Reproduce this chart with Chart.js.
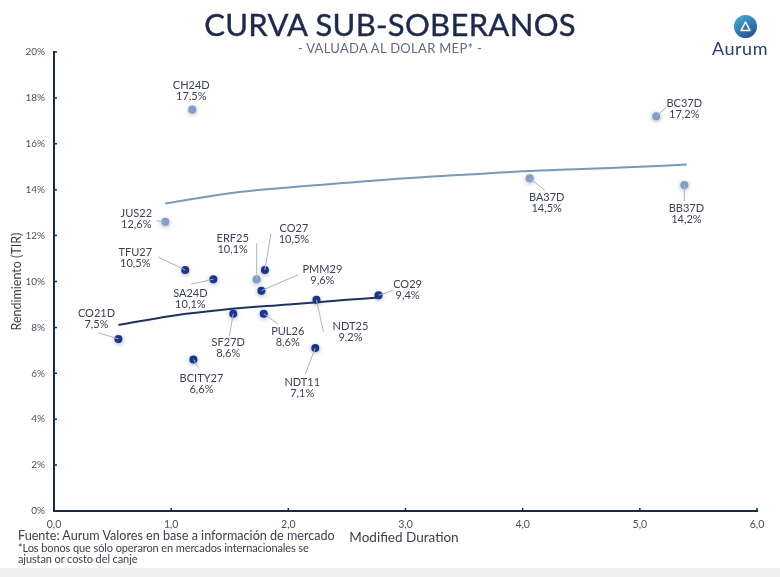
<!DOCTYPE html>
<html>
<head>
<meta charset="utf-8">
<script src="https://cdn.jsdelivr.net/npm/chart.js@4.4.1/dist/chart.umd.min.js"></script>
<style>
  html, body { margin: 0; padding: 0; background: #fff; }
  #wrap { position: relative; width: 780px; height: 577px; overflow: hidden; font-family: Lato, "Noto Sans", sans-serif; }
  #c { position: absolute; left: 0; top: 0; }
  .title { position: absolute; left: 0; width: 780px; top: 5px; text-align: center; font-size: 31px; color: #1b2a4e; letter-spacing: 0.3px; -webkit-text-stroke: 0.4px #1b2a4e; }
  .sub { position: absolute; left: 0; width: 780px; top: 40px; text-align: center; font-size: 13px; color: #5d6b86; letter-spacing: 0.3px; }
  .logo { position: absolute; left: 705px; top: 15px; width: 70px; text-align: center; }
  .logo svg { display: block; margin: 0 0 0 29px; }
  .logo .tx { font-size: 18px; color: #2a3d6a; margin-top: -1px; letter-spacing: 0.5px; }
  .xt { position: absolute; left: 0; width: 808px; top: 529px; text-align: center; font-size: 13.5px; color: #3a3f4c; }
  .foot1 { position: absolute; left: 18px; top: 528px; font-size: 12.6px; color: #3a3f4c; }
  .foot2 { position: absolute; left: 18px; top: 542px; font-size: 11px; color: #3a3f4c; line-height: 11px; letter-spacing: -0.1px; }
  .band { position: absolute; left: 0; top: 568px; width: 780px; height: 9px; background: #f0f0f0; }
</style>
</head>
<body>
<div id="wrap">
  <canvas id="c" width="780" height="577"></canvas>
  <div class="title">CURVA SUB-SOBERANOS</div>
  <div class="sub">- VALUADA AL DOLAR MEP* -</div>
  <div class="logo">
    <svg width="23" height="23" viewBox="0 0 23 23">
      <defs><linearGradient id="lg" x1="0" y1="0" x2="0.6" y2="1"><stop offset="0" stop-color="#41b4de"/><stop offset="1" stop-color="#2a559b"/></linearGradient></defs>
      <circle cx="11.5" cy="11.5" r="11.5" fill="url(#lg)"/>
      <path d="M7 15.5 L11.5 7 L16 15.5 Z" fill="none" stroke="#fff" stroke-width="1.6" stroke-linejoin="round"/>
    </svg>
    <div class="tx">Aurum</div>
  </div>
  <div class="xt">Modified Duration</div>
  <div class="foot1">Fuente: Aurum Valores en base a información de mercado</div>
  <div class="foot2">*Los bonos que sólo operaron en mercados internacionales se<br>ajustan or costo del canje</div>
  <div class="band"></div>
</div>
<script>
// bonos (celeste)
const lightNames = ['CH24D', 'BC37D', 'BA37D', 'BB37D', 'JUS22', 'ERF25'];
const lightDur = [1.18, 5.14, 4.06, 5.38, 0.95, 1.73];
const lightTir = [17.5, 17.2, 14.5, 14.2, 12.6, 10.1];

// bonos (azul)
const darkNames = ['TFU27', 'SA24D', 'CO27', 'PMM29', 'CO29', 'NDT25', 'CO21D', 'SF27D', 'PUL26', 'BCITY27', 'NDT11'];
const darkDur = [1.12, 1.36, 1.80, 1.77, 2.77, 2.24, 0.55, 1.53, 1.79, 1.19, 2.23];
const darkTir = [10.5, 10.1, 10.5, 9.6, 9.4, 9.2, 7.5, 8.6, 8.6, 6.6, 7.1];

// curvas de tendencia
const lightTrendX = [0.95, 1.5, 2.0, 2.5, 3.0, 3.5, 4.0, 4.5, 5.0, 5.4];
const lightTrendY = [13.4, 13.85, 14.1, 14.3, 14.5, 14.65, 14.8, 14.9, 15.0, 15.1];
const darkTrendX = [0.55, 1.0, 1.5, 2.0, 2.5, 2.77];
const darkTrendY = [8.1, 8.5, 8.8, 9.0, 9.2, 9.3];

// ejes
const xTicks = [0, 1, 2, 3, 4, 5, 6];
const yTicks = [0, 2, 4, 6, 8, 10, 12, 14, 16, 18, 20];

// posicion de etiquetas (dx,dy del nombre y fin de la linea guia)
const labelPos = {
  CH24D: [-1, -24, null], BC37D: [28, -13, [10, -9]], BA37D: [17, 19, [15, 12]],
  BB37D: [2, 23, [0, 16]], JUS22: [-29, -8, [-9, -1]], ERF25: [-24, -41, [0, -36]],
  TFU27: [-50, -18, [-27, -13]], SA24D: [-23, 14, [-22, 5]], CO27: [29, -42, [6, -36]],
  PMM29: [61, -21, [37, -16]], CO29: [29, -11, [15, -5]], NDT25: [34, 27, [7, 32]],
  CO21D: [-22, -25, [-20, -6]], SF27D: [-5, 29, [-4, 23]], PUL26: [24, 18, [15, 11]],
  BCITY27: [8, 19, [5, 8]], NDT11: [-13, 34, [-10, 26]]
};

const fmt = v => v.toFixed(1).replace('.', ',');

function pts(xs, ys) { return xs.map((x, i) => ({x: x, y: ys[i]})); }

const labelsPlugin = {
  id: 'bondLabels',
  afterDatasetsDraw(chart) {
    const ctx = chart.ctx;
    ctx.save();
    chart.data.datasets.forEach((ds, di) => {
      if (!ds.names) return;
      const meta = chart.getDatasetMeta(di);
      meta.data.forEach((el, i) => {
        const p = labelPos[ds.names[i]];
        if (p[2]) {
          ctx.strokeStyle = '#a9b2c4';
          ctx.lineWidth = 1;
          ctx.beginPath();
          ctx.moveTo(el.x, el.y);
          ctx.lineTo(el.x + p[2][0], el.y + p[2][1]);
          ctx.stroke();
        }
        ctx.fillStyle = '#3b4258';
        ctx.font = '11px Lato, "Noto Sans", sans-serif';
        ctx.textAlign = 'center';
        ctx.textBaseline = 'middle';
        ctx.fillText(ds.names[i], el.x + p[0], el.y + p[1]);
        ctx.fillText(fmt(ds.data[i].y) + '%', el.x + p[0], el.y + p[1] + 11);
      });
    });
    ctx.restore();
  }
};

const ticksPlugin = {
  id: 'innerTicks',
  afterDraw(chart) {
    const ctx = chart.ctx, xs = chart.scales.x, ys = chart.scales.y;
    ctx.save();
    ctx.strokeStyle = '#1b2a45';
    ctx.lineWidth = 1.5;
    ctx.beginPath();
    xTicks.forEach(v => { const px = xs.getPixelForValue(v); ctx.moveTo(px, ys.bottom); ctx.lineTo(px, ys.bottom - 3); });
    yTicks.forEach(v => { const py = ys.getPixelForValue(v); ctx.moveTo(xs.left, py); ctx.lineTo(xs.left + 3, py); });
    ctx.moveTo(xs.left - 1, ys.top); ctx.lineTo(xs.left + 3, ys.top);
    ctx.stroke();
    ctx.restore();
  }
};

const glowPlugin = {
  id: 'glow',
  beforeDatasetDraw(chart, args) {
    const ds = chart.data.datasets[args.index];
    if (ds.showLine) return;
    chart.ctx.save();
    chart.ctx.shadowColor = 'rgba(0,0,0,0.35)';
    chart.ctx.shadowBlur = 4;
    chart.ctx.shadowOffsetY = 1;
  },
  afterDatasetDraw(chart, args) {
    const ds = chart.data.datasets[args.index];
    if (ds.showLine) return;
    chart.ctx.restore();
  }
};

new Chart(document.getElementById('c'), {
  type: 'scatter',
  data: {
    datasets: [
      { data: pts(lightTrendX, lightTrendY), showLine: true, borderColor: '#7399c5', borderWidth: 2, pointRadius: 0, tension: 0.4, fill: false },
      { data: pts(darkTrendX, darkTrendY), showLine: true, borderColor: '#1c3270', borderWidth: 2, pointRadius: 0, tension: 0.4, fill: false },
      { names: lightNames, data: pts(lightDur, lightTir), backgroundColor: '#7f9fca', borderWidth: 0, pointRadius: 4 },
      { names: darkNames, data: pts(darkDur, darkTir), backgroundColor: '#1a358f', borderWidth: 0, pointRadius: 4 }
    ]
  },
  options: {
    responsive: false,
    animation: false,
    layout: { padding: { top: 52, right: 23, left: 0, bottom: 0 } },
    plugins: { legend: { display: false }, tooltip: { enabled: false } },
    scales: {
      x: {
        type: 'linear', min: 0, max: 6,
        afterFit: s => { s.height = 66; },
        afterBuildTicks: s => { s.ticks = xTicks.map(v => ({value: v})); },
        border: { color: '#1b2a45', width: 2 },
        grid: { drawOnChartArea: false, drawTicks: false },
        ticks: { padding: 7, color: '#4a5164', font: { family: 'Lato', size: 10.5 }, callback: v => fmt(v) }
      },
      y: {
        min: 0, max: 20,
        afterFit: s => { s.width = 54; },
        afterBuildTicks: s => { s.ticks = yTicks.map(v => ({value: v})); },
        border: { color: '#1b2a45', width: 2 },
        grid: { drawOnChartArea: false, drawTicks: false },
        ticks: { padding: 9, color: '#4a5164', font: { family: 'Lato', size: 10 }, callback: v => v + '%' },
        title: { display: true, text: 'Rendimiento (TIR)', color: '#3a3f4c', font: { family: 'Lato', size: 12.5 }, padding: { top: 9, bottom: 2 } }
      }
    }
  },
  plugins: [labelsPlugin, ticksPlugin, glowPlugin]
});
</script>
</body>
</html>
